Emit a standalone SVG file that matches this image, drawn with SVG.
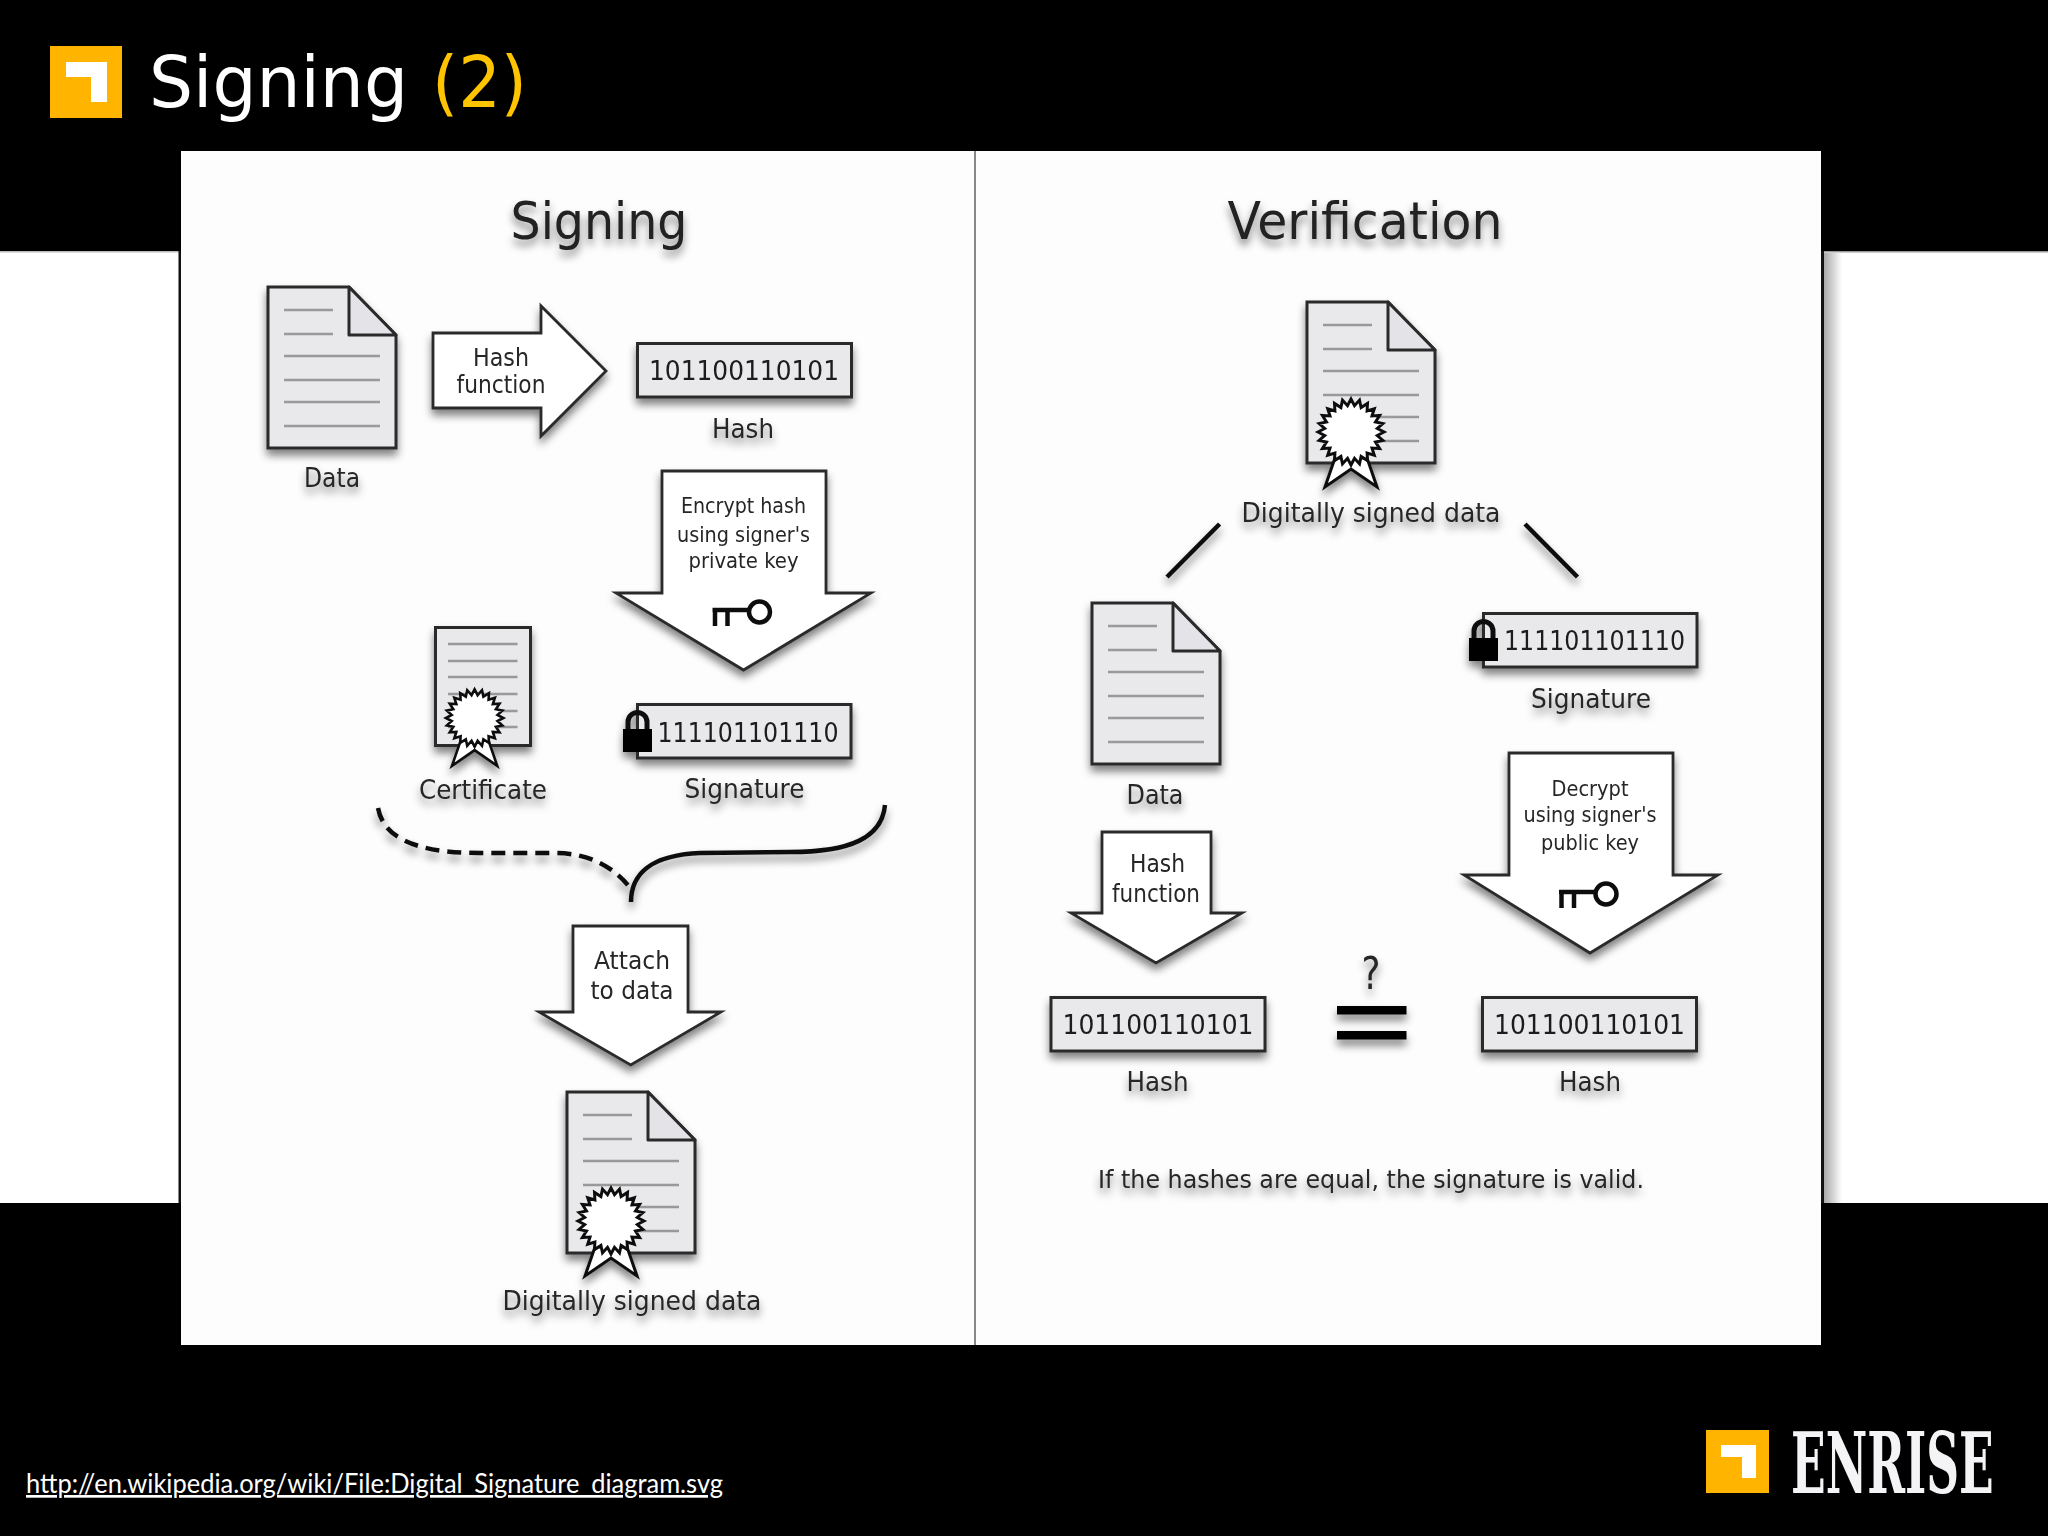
<svg xmlns="http://www.w3.org/2000/svg" width="2048" height="1536" viewBox="0 0 2048 1536">
<style>
text{font-family:"DejaVu Sans","Liberation Sans",sans-serif;fill:#262626;text-anchor:middle}
.lab{font-size:27px}.small{font-size:22px}.mid{font-size:25px}.num{font-size:27px;fill:#1c1c1c}.ttl{font-size:52px;fill:#222}
.box{fill:#e9e9ec;stroke:#2a2a2a;stroke-width:3}
.arrow{fill:#fff;stroke:#2a2a2a;stroke-width:2.8;stroke-linejoin:miter}
.ln{stroke:#999;stroke-width:2.6;fill:none}
.fold{fill:#e4e4e8;stroke:#2a2a2a;stroke-width:3;stroke-linejoin:round}
.seal{fill:#fff;stroke:#111;stroke-width:3}
.con{fill:none;stroke:#111;stroke-width:4.5}
.key{fill:none;stroke:#111;stroke-width:4.5}
</style>
<defs>
<filter id="soft" filterUnits="userSpaceOnUse" x="0" y="0" width="2048" height="1536">
<feGaussianBlur in="SourceGraphic" stdDeviation="0.5" result="b"/>
<feGaussianBlur in="SourceAlpha" stdDeviation="4"/>
<feOffset dy="6"/>
<feComponentTransfer result="s"><feFuncA type="linear" slope="0.5"/></feComponentTransfer>
<feMerge><feMergeNode in="s"/><feMergeNode in="b"/></feMerge>
</filter>
<linearGradient id="edge" x1="0" x2="1" y1="0" y2="0"><stop offset="0" stop-color="#a8a8a8"/><stop offset="1" stop-color="#fff"/></linearGradient>
<g id="doc">
<path class="box" d="M0,0H81L128,48V161H0Z"/>
<path class="fold" d="M81,0V48H128Z"/>
<path class="ln" d="M16,23H65M16,47H65M16,69H112M16,93H112M16,115H112M16,139H112"/>
</g>
<polygon id="star" class="seal" points="33,0 26.3,3.5 31.9,8.5 24.5,10.1 28.6,16.5 21,16.1 23.3,23.3 16.1,21 16.5,28.6 10.1,24.5 8.5,31.9 3.5,26.3 0,33 -3.5,26.3 -8.5,31.9 -10.1,24.5 -16.5,28.6 -16.1,21 -23.3,23.3 -21,16.1 -28.6,16.5 -24.5,10.1 -31.9,8.5 -26.3,3.5 -33,0 -26.3,-3.5 -31.9,-8.5 -24.5,-10.1 -28.6,-16.5 -21,-16.1 -23.3,-23.3 -16.1,-21 -16.5,-28.6 -10.1,-24.5 -8.5,-31.9 -3.5,-26.3 0,-33 3.5,-26.3 8.5,-31.9 10.1,-24.5 16.5,-28.6 16.1,-21 23.3,-23.3 21,-16.1 28.6,-16.5 24.5,-10.1 31.9,-8.5 26.3,-3.5"/>
<g id="rosette">
<polygon class="seal" points="-16,26 -26,55 0,37 26,55 16,26"/>
<use href="#star"/>
</g>
<g id="key">
<circle class="key" cx="0" cy="0" r="10.5"/>
<path class="key" d="M-10,-2H-47M-44.500,-2V14M-32,-2V14"/>
</g>
<g id="lock">
<path d="M-9.500,22V11a9.500,9.500 0 0 1 19,0V22" fill="none" stroke="#111" stroke-width="5"/>
<rect x="-14.500" y="18" width="29" height="23" fill="#000"/>
</g>
</defs>

<rect width="2048" height="1536" fill="#000"/>
<rect y="251" width="2048" height="952" fill="#fff"/>
<rect y="251" width="179" height="1.500" fill="#bbb"/>
<rect x="1823" y="251" width="225" height="1.500" fill="#999"/>
<rect x="178.500" y="251" width="2.500" height="952" fill="#111"/>
<rect x="1821" y="251" width="3" height="952" fill="#111"/>
<rect x="1824" y="253" width="18" height="950" fill="url(#edge)"/>
<rect x="181" y="151" width="1640" height="1194" fill="#fdfdfe"/>
<rect x="974" y="151" width="2" height="1194" fill="#888"/>

<g id="header">
<rect x="50" y="46" width="72" height="72" fill="#ffb400"/>
<path d="M66,62H107V102H91V77H66Z" fill="#fff"/>
<text x="149" y="107" font-size="71" textLength="259" lengthAdjust="spacingAndGlyphs" style="text-anchor:start;fill:#fff">Signing</text>
<text x="432" y="107" font-size="71" textLength="95" lengthAdjust="spacingAndGlyphs" style="text-anchor:start;fill:#ffc400">(2)</text>
</g>

<g id="diagram" filter="url(#soft)">
<g id="connectors">
<path class="con" stroke-dasharray="14 8" d="M378,808C383,835 410,853 480,853L555,853C590,853 615,868 630,888"/>
<path class="con" d="M885,805C882,838 850,852 790,852L700,853C650,855 631,875 631,902"/>
<path class="con" d="M1219.600,524L1167,577M1525,524L1577.500,577"/>
</g>

<text class="ttl" x="599" y="239" textLength="177" lengthAdjust="spacingAndGlyphs">Signing</text>
<text class="ttl" x="1365" y="239" textLength="275" lengthAdjust="spacingAndGlyphs">Verification</text>

<g id="data-left">
<use href="#doc" x="268" y="287"/>
<text class="lab" x="332" y="487" textLength="56" lengthAdjust="spacingAndGlyphs">Data</text>
</g>
<g id="hash-arrow-left">
<polygon class="arrow" points="433,333 541,333 541,306 606,371 541,436 541,408 433,408"/>
<text class="mid" x="501" y="366" textLength="56" lengthAdjust="spacingAndGlyphs">Hash</text>
<text class="mid" x="501" y="393" textLength="89" lengthAdjust="spacingAndGlyphs">function</text>
</g>
<g id="hash-left">
<rect class="box" x="637.500" y="343.500" width="214" height="53.500"/>
<text class="num" x="744" y="380" textLength="190" lengthAdjust="spacingAndGlyphs">101100110101</text>
<text class="lab" x="743" y="438" textLength="62" lengthAdjust="spacingAndGlyphs">Hash</text>
</g>
<g id="encrypt-arrow">
<polygon class="arrow" points="662,471 826,471 826,593 871,593 743.500,670 616,593 662,593"/>
<text class="small" x="743.500" y="513" textLength="125" lengthAdjust="spacingAndGlyphs">Encrypt hash</text>
<text class="small" x="743.500" y="542" textLength="133" lengthAdjust="spacingAndGlyphs">using signer's</text>
<text class="small" x="743.500" y="568" textLength="110" lengthAdjust="spacingAndGlyphs">private key</text>
<use href="#key" x="759.500" y="612"/>
</g>
<g id="certificate">
<rect class="box" x="435.500" y="627.500" width="95" height="118"/>
<path class="ln" d="M448,644H517.500M448,661H517.500M448,677H517.500M448,694H517.500M448,711H517.500M448,727H517.500"/>
<use href="#rosette" transform="translate(474.600,718) scale(.87)"/>
<text class="lab" x="483" y="799" textLength="128" lengthAdjust="spacingAndGlyphs">Certificate</text>
</g>
<g id="signature-left">
<rect class="box" x="637.500" y="704.500" width="213.500" height="53.500"/>
<use href="#lock" x="637.500" y="711"/>
<text class="num" x="748" y="742" textLength="181" lengthAdjust="spacingAndGlyphs">111101101110</text>
<text class="lab" x="744.500" y="798" textLength="120" lengthAdjust="spacingAndGlyphs">Signature</text>
</g>
<g id="attach-arrow">
<polygon class="arrow" points="573,926 688,926 688,1012 721,1012 630.700,1065 539,1012 573,1012"/>
<text class="mid" x="632" y="969" textLength="76" lengthAdjust="spacingAndGlyphs" font-size="26">Attach</text>
<text class="mid" x="632" y="999" textLength="83" lengthAdjust="spacingAndGlyphs" font-size="26">to data</text>
</g>
<g id="signed-left">
<use href="#doc" x="567" y="1092"/>
<use href="#rosette" x="611" y="1221"/>
<text class="lab" x="632" y="1310" textLength="259" lengthAdjust="spacingAndGlyphs">Digitally signed data</text>
</g>

<g id="signed-right">
<use href="#doc" x="1307" y="302"/>
<use href="#rosette" x="1351" y="432"/>
<text class="lab" x="1371" y="522" textLength="259" lengthAdjust="spacingAndGlyphs">Digitally signed data</text>
</g>
<g id="data-right">
<use href="#doc" x="1092" y="603"/>
<text class="lab" x="1155" y="804" textLength="57" lengthAdjust="spacingAndGlyphs">Data</text>
</g>
<g id="signature-right">
<rect class="box" x="1483.500" y="613.500" width="213.500" height="53.500"/>
<use href="#lock" x="1483.500" y="620"/>
<text class="num" x="1594.500" y="650" textLength="181" lengthAdjust="spacingAndGlyphs">111101101110</text>
<text class="lab" x="1591" y="708" textLength="120" lengthAdjust="spacingAndGlyphs">Signature</text>
</g>
<g id="hash-arrow-right">
<polygon class="arrow" points="1102,832 1211,832 1211,913 1242,913 1156,963 1071,913 1102,913"/>
<text class="mid" x="1157.500" y="872" textLength="55" lengthAdjust="spacingAndGlyphs">Hash</text>
<text class="mid" x="1156" y="902" textLength="88" lengthAdjust="spacingAndGlyphs">function</text>
</g>
<g id="decrypt-arrow">
<polygon class="arrow" points="1509,753 1673,753 1673,875 1718,875 1590,953 1464,875 1509,875"/>
<text class="small" x="1590" y="796" textLength="77" lengthAdjust="spacingAndGlyphs">Decrypt</text>
<text class="small" x="1590" y="822" textLength="133" lengthAdjust="spacingAndGlyphs">using signer's</text>
<text class="small" x="1590" y="850" textLength="98" lengthAdjust="spacingAndGlyphs">public key</text>
<use href="#key" x="1606" y="894"/>
</g>
<g id="hash-compare-left">
<rect class="box" x="1051" y="997.500" width="214" height="53.500"/>
<text class="num" x="1158" y="1034" textLength="191" lengthAdjust="spacingAndGlyphs">101100110101</text>
<text class="lab" x="1157.500" y="1091" textLength="62" lengthAdjust="spacingAndGlyphs">Hash</text>
</g>
<g id="equals">
<text x="1371" y="989" font-size="44" textLength="19" lengthAdjust="spacingAndGlyphs">?</text>
<rect x="1337" y="1006" width="69.500" height="8.500" fill="#000"/>
<rect x="1337" y="1031" width="69.500" height="8.500" fill="#000"/>
</g>
<g id="hash-compare-right">
<rect class="box" x="1482.500" y="997.500" width="214" height="53.500"/>
<text class="num" x="1589.500" y="1034" textLength="191" lengthAdjust="spacingAndGlyphs">101100110101</text>
<text class="lab" x="1590" y="1091" textLength="62" lengthAdjust="spacingAndGlyphs">Hash</text>
</g>
<text class="mid" id="conclusion" x="1371" y="1188" textLength="546" lengthAdjust="spacingAndGlyphs">If the hashes are equal, the signature is valid.</text>
</g>

<g id="footer">
<text x="26" y="1493" font-size="27" textLength="697" lengthAdjust="spacingAndGlyphs" text-decoration="underline" style="font-family:Lato,'Liberation Sans',sans-serif;text-anchor:start;fill:#fff">http://en.wikipedia.org/wiki/File:Digital_Signature_diagram.svg</text>
<rect x="1706" y="1430" width="63" height="63" fill="#ffb400"/>
<path d="M1721,1445H1756V1478H1742V1457H1721Z" fill="#fff"/>
<text transform="translate(1791,1493) scale(.535,1)" x="0" y="0" font-size="85" font-weight="700" style="font-family:'DejaVu Serif','Liberation Serif',serif;text-anchor:start;fill:#f4f4f6">ENRISE</text>
</g>
</svg>
